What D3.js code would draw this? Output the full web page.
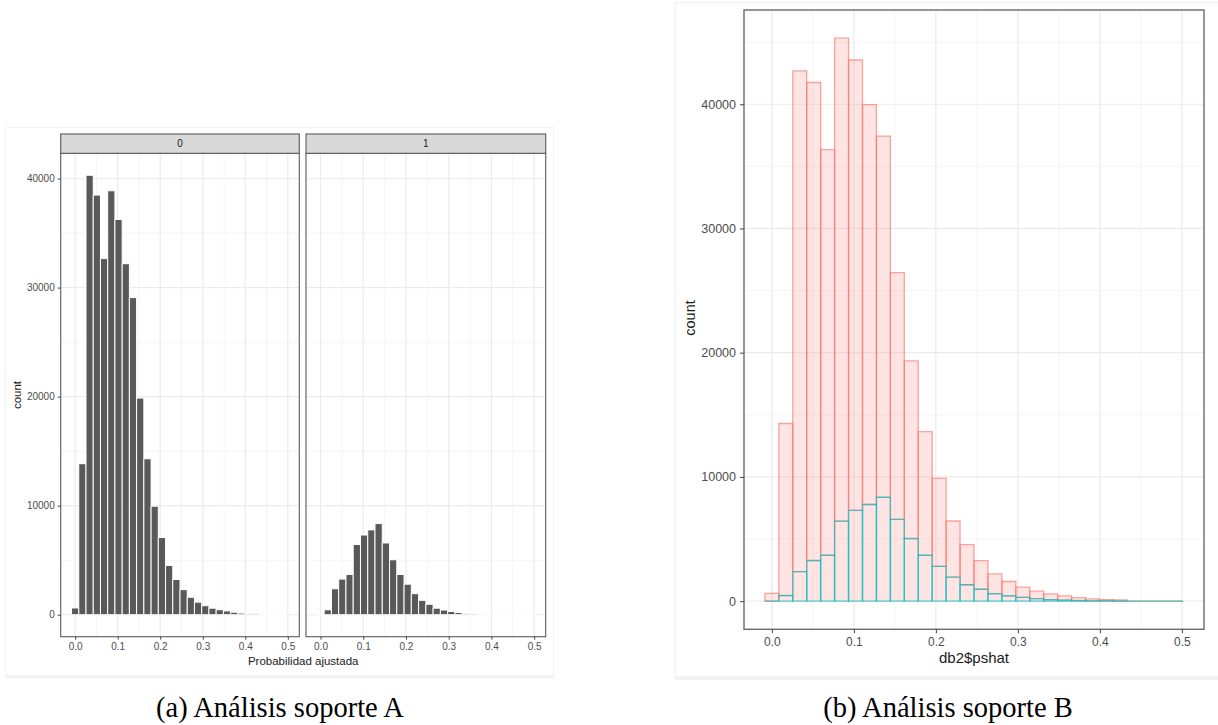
<!DOCTYPE html>
<html>
<head>
<meta charset="utf-8">
<script src="https://cdn.jsdelivr.net/npm/d3@7"></script>
<style>
  html, body { margin: 0; padding: 0; background: #ffffff; }
  svg { display: block; }
  .tick text { font-family: "Liberation Sans", Arial, sans-serif; fill: #4d4d4d; }
</style>
</head>
<body>
<svg id="fig" width="1218" height="725"></svg>
<script>
// Histogram bins of the fitted probability (30 bins, midpoints)
const binMids = [0.000, 0.017, 0.034, 0.051, 0.068, 0.085, 0.102, 0.119, 0.136, 0.153,
                 0.170, 0.187, 0.204, 0.221, 0.238, 0.255, 0.272, 0.289, 0.306, 0.323,
                 0.340, 0.357, 0.374, 0.391, 0.408, 0.425, 0.442, 0.459, 0.476, 0.493];
const binWidth = 0.017;

// Counts per bin for outcome 0 and outcome 1
const counts0 = [620, 13850, 40300, 38480, 32660, 38880, 36250, 32190, 29080, 19870,
                 14300, 9950, 7080, 4520, 3230, 2300, 1600, 1150, 830, 600,
                 460, 350, 230, 150, 110, 90, 0, 0, 0, 0];
const counts1 = [0, 450, 2380, 3270, 3690, 6440, 7310, 7780, 8360, 6580,
                 5040, 3690, 2800, 1930, 1320, 960, 600, 430, 300, 200,
                 120, 80, 50, 30, 20, 10, 0, 0, 0, 0];

const groups = ["0", "1"];
const xTicks = [0.0, 0.1, 0.2, 0.3, 0.4, 0.5];
const xMinor = [0.05, 0.15, 0.25, 0.35, 0.45];
const yTicks = [0, 10000, 20000, 30000, 40000];
const yMinor = [5000, 15000, 25000, 35000, 45000];

const captionA = "(a) Análisis soporte A";
const captionB = "(b) Análisis soporte B";
const xTitleA = "Probabilidad ajustada";
const xTitleB = "db2$pshat";
const yTitle = "count";

const svg = d3.select("#fig");
const sans = '"Liberation Sans", Arial, sans-serif';

// x range of the bins, widened by 5% on each side
const lo = binMids[0] - binWidth / 2, hi = binMids[binMids.length - 1] + binWidth / 2;
const pad = (hi - lo) * 0.05;
const xDomain = [lo - pad, hi + pad];

function barPath(x, y, d, base, top) {
  const x0 = x(d - binWidth / 2), x1 = x(d + binWidth / 2);
  const y0 = y(base), y1 = y(top);
  return `M${x0},${y0}H${x1}V${y1}H${x0}Z`;
}

function grid(g, x, y, x0, x1, y0, y1, yMaxDomain) {
  const yMin = yMinor.filter(v => v < yMaxDomain);
  g.selectAll(".ymin").data(yMin).join("line")
    .attr("x1", x0).attr("x2", x1).attr("y1", d => y(d)).attr("y2", d => y(d))
    .attr("stroke", "#f4f4f4").attr("stroke-width", 0.9);
  g.selectAll(".xmin").data(xMinor).join("line")
    .attr("y1", y0).attr("y2", y1).attr("x1", d => x(d)).attr("x2", d => x(d))
    .attr("stroke", "#f4f4f4").attr("stroke-width", 0.9);
  g.selectAll(".ymaj").data(yTicks).join("line")
    .attr("x1", x0).attr("x2", x1).attr("y1", d => y(d)).attr("y2", d => y(d))
    .attr("stroke", "#ebebeb").attr("stroke-width", 1.2);
  g.selectAll(".xmaj").data(xTicks).join("line")
    .attr("y1", y0).attr("y2", y1).attr("x1", d => x(d)).attr("x2", d => x(d))
    .attr("stroke", "#ebebeb").attr("stroke-width", 1.2);
}

/* ---------------- (a) faceted histogram ---------------- */
(function () {
  const frame = svg.append("g");
  frame.append("rect").attr("x", 5.5).attr("y", 127.5).attr("width", 548).attr("height", 549)
    .attr("fill", "none").attr("stroke", "#f3f3f3").attr("stroke-width", 1);
  frame.append("rect").attr("x", 5).attr("y", 675).attr("width", 549).attr("height", 3.5)
    .attr("fill", "#f3f3f3");

  const panelTop = 153.3, panelBottom = 636.7, stripTop = 134;
  const panels = [[60.7, 299.3], [306, 545.7]];
  const yMax = d3.max(counts0.concat(counts1));
  const y = d3.scaleLinear().domain([-yMax * 0.05, yMax * 1.05]).range([panelBottom, panelTop]);
  const series = [counts0, counts1];

  panels.forEach((p, i) => {
    const x = d3.scaleLinear().domain(xDomain).range(p);
    const g = svg.append("g");
    g.append("rect").attr("x", p[0]).attr("y", panelTop).attr("width", p[1] - p[0])
      .attr("height", panelBottom - panelTop).attr("fill", "#ffffff");
    grid(g, x, y, p[0], p[1], panelTop, panelBottom, y.domain()[1]);

    g.selectAll(".bar").data(binMids).join("path")
      .attr("d", (d, k) => barPath(x, y, d, 0, series[i][k]))
      .attr("fill", "#595959").attr("stroke", "#ffffff").attr("stroke-width", 1.0);

    g.append("rect").attr("x", p[0]).attr("y", panelTop).attr("width", p[1] - p[0])
      .attr("height", panelBottom - panelTop).attr("fill", "none")
      .attr("stroke", "#5a5a5a").attr("stroke-width", 1.1);

    // strip
    g.append("rect").attr("x", p[0]).attr("y", stripTop).attr("width", p[1] - p[0])
      .attr("height", panelTop - stripTop).attr("fill", "#d9d9d9")
      .attr("stroke", "#5a5a5a").attr("stroke-width", 1.1);
    g.append("text").attr("x", (p[0] + p[1]) / 2).attr("y", (stripTop + panelTop) / 2 + 3.5)
      .attr("text-anchor", "middle").attr("font-family", sans).attr("font-size", 10)
      .attr("fill", "#1a1a1a").text(groups[i]);

    // x axis
    const ax = g.append("g").attr("transform", `translate(0,${panelBottom})`)
      .call(d3.axisBottom(x).tickValues(xTicks).tickFormat(d3.format(".1f")).tickSize(3).tickPadding(3));
    ax.select(".domain").remove();
    ax.selectAll(".tick line").attr("stroke", "#444");
    ax.selectAll(".tick text").attr("font-size", 10);
  });

  // y axis on the first panel
  const ay = svg.append("g").attr("transform", `translate(${panels[0][0]},0)`)
    .call(d3.axisLeft(y).tickValues(yTicks).tickFormat(d3.format("d")).tickSize(3).tickPadding(3));
  ay.select(".domain").remove();
  ay.selectAll(".tick line").attr("stroke", "#444");
  ay.selectAll(".tick text").attr("font-size", 10);

  svg.append("text").attr("transform", `translate(21,${(panelTop + panelBottom) / 2}) rotate(-90)`)
    .attr("text-anchor", "middle").attr("font-family", sans).attr("font-size", 11.5)
    .attr("fill", "#1a1a1a").text(yTitle);
  svg.append("text").attr("x", (panels[0][0] + panels[1][1]) / 2).attr("y", 665)
    .attr("text-anchor", "middle").attr("font-family", sans).attr("font-size", 11.5)
    .attr("fill", "#1a1a1a").text(xTitleA);
})();

/* ---------------- (b) stacked histogram ---------------- */
(function () {
  const frame = svg.append("g");
  frame.append("line").attr("x1", 675).attr("x2", 1218).attr("y1", 2.5).attr("y2", 2.5)
    .attr("stroke", "#f3f3f3").attr("stroke-width", 1.5);
  frame.append("line").attr("x1", 675.5).attr("x2", 675.5).attr("y1", 2).attr("y2", 678)
    .attr("stroke", "#f3f3f3").attr("stroke-width", 1.5);
  frame.append("rect").attr("x", 675).attr("y", 676).attr("width", 543).attr("height", 4)
    .attr("fill", "#f3f3f3");

  const x0 = 744, x1 = 1204, top = 10, bottom = 629.3;
  const totals = counts0.map((c, k) => c + counts1[k]);
  const yMax = d3.max(totals);
  const x = d3.scaleLinear().domain(xDomain).range([x0, x1]);
  const y = d3.scaleLinear().domain([-yMax * 0.05, yMax * 1.05]).range([bottom, top]);

  const g = svg.append("g");
  grid(g, x, y, x0, x1, top, bottom, y.domain()[1]);

  // outcome 0 stacked on top of outcome 1
  g.selectAll(".bar0").data(binMids).join("path")
    .attr("d", (d, k) => barPath(x, y, d, counts1[k], totals[k]))
    .attr("fill", "#F8766D").attr("fill-opacity", 0.2)
    .attr("stroke", "#F8766D").attr("stroke-opacity", 0.65).attr("stroke-width", 1.3);
  g.selectAll(".bar1").data(binMids).join("path")
    .attr("d", (d, k) => barPath(x, y, d, 0, counts1[k]))
    .attr("fill", "#F8766D").attr("fill-opacity", 0.2)
    .attr("stroke", "#00BFC4").attr("stroke-opacity", 0.65).attr("stroke-width", 1.4);

  g.append("rect").attr("x", x0).attr("y", top).attr("width", x1 - x0).attr("height", bottom - top)
    .attr("fill", "none").attr("stroke", "#6a6a6a").attr("stroke-width", 1.4);

  const ax = g.append("g").attr("transform", `translate(0,${bottom})`)
    .call(d3.axisBottom(x).tickValues(xTicks).tickFormat(d3.format(".1f")).tickSize(4).tickPadding(4));
  ax.select(".domain").remove();
  ax.selectAll(".tick line").attr("stroke", "#444");
  ax.selectAll(".tick text").attr("font-size", 12);

  const ay = g.append("g").attr("transform", `translate(${x0},0)`)
    .call(d3.axisLeft(y).tickValues(yTicks).tickFormat(d3.format("d")).tickSize(4).tickPadding(4));
  ay.select(".domain").remove();
  ay.selectAll(".tick line").attr("stroke", "#444");
  ay.selectAll(".tick text").attr("font-size", 12.5);

  svg.append("text").attr("transform", `translate(695,318) rotate(-90)`)
    .attr("text-anchor", "middle").attr("font-family", sans).attr("font-size", 14.5)
    .attr("fill", "#1a1a1a").text(yTitle);
  svg.append("text").attr("x", (x0 + x1) / 2).attr("y", 663)
    .attr("text-anchor", "middle").attr("font-family", sans).attr("font-size", 15)
    .attr("fill", "#1a1a1a").text(xTitleB);
})();

/* ---------------- captions ---------------- */
const serif = '"Liberation Serif", "Times New Roman", serif';
svg.append("text").attr("x", 280).attr("y", 717).attr("text-anchor", "middle")
  .attr("font-family", serif).attr("font-size", 28.5).attr("fill", "#000").text(captionA);
svg.append("text").attr("x", 948).attr("y", 717).attr("text-anchor", "middle")
  .attr("font-family", serif).attr("font-size", 28.5).attr("fill", "#000").text(captionB);
</script>
</body>
</html>
